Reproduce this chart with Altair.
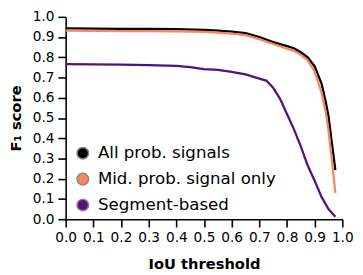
import altair as alt
import pandas as pd

iou = [0.0, 0.1, 0.2, 0.3, 0.4, 0.5, 0.55, 0.6, 0.65, 0.7, 0.75, 0.8, 0.825,
       0.85, 0.875, 0.9, 0.925, 0.94, 0.95, 0.96, 0.975]
all_prob = [0.943, 0.942, 0.941, 0.940, 0.939, 0.936, 0.932, 0.927, 0.920, 0.900,
            0.875, 0.855, 0.845, 0.825, 0.800, 0.755, 0.670, 0.580, 0.510, 0.400, 0.242]
mid_prob = [0.932, 0.931, 0.930, 0.929, 0.928, 0.926, 0.922, 0.917, 0.910, 0.890,
            0.866, 0.843, 0.832, 0.812, 0.785, 0.730, 0.625, 0.530, 0.440, 0.320, 0.130]

iou_seg = [0.0, 0.1, 0.2, 0.3, 0.4, 0.45, 0.5, 0.55, 0.6, 0.65, 0.7, 0.725, 0.75,
           0.775, 0.8, 0.825, 0.85, 0.875, 0.9, 0.925, 0.95, 0.975]
segment = [0.766, 0.765, 0.764, 0.761, 0.758, 0.752, 0.742, 0.738, 0.728, 0.716,
           0.695, 0.685, 0.650, 0.595, 0.520, 0.445, 0.360, 0.265, 0.190, 0.110,
           0.050, 0.012]

series_names = ["All prob. signals", "Mid. prob. signal only", "Segment-based"]
series_colors = ["#000000", "#f8875f", "#51127c"]

rows = []
for k, (xs, ys) in enumerate([(iou, all_prob), (iou, mid_prob), (iou_seg, segment)]):
    for i, (x, y) in enumerate(zip(xs, ys)):
        rows.append({"iou": x, "f1": y, "method": series_names[k],
                     "series": series_names[k], "order": k, "i": i})
df = pd.DataFrame(rows)

tick_vals = [round(0.1 * i, 1) for i in range(11)]

x_enc = alt.X("iou:Q", scale=alt.Scale(domain=[0, 1], nice=False),
              axis=alt.Axis(title="IoU threshold", values=tick_vals, format=".1f",
                            labelOverlap=False, labelFlush=False))
y_enc = alt.Y("f1:Q", scale=alt.Scale(domain=[0, 1], nice=False),
              axis=alt.Axis(title="F₁ score", values=tick_vals, format=".1f",
                            labelOverlap=False, labelFlush=False))

lines = alt.Chart(df).mark_line(strokeWidth=2.3).encode(
    x=x_enc, y=y_enc,
    stroke=alt.Stroke("method:N",
                      scale=alt.Scale(domain=series_names, range=series_colors),
                      legend=None),
    detail="order:N",
    order="i:Q",
)

legend_pts = alt.Chart(df).mark_point(filled=True, size=0, stroke="#888888",
                                       strokeWidth=1.5, opacity=1).encode(
    x=x_enc, y=y_enc,
    fill=alt.Fill("series:N",
                  scale=alt.Scale(domain=series_names, range=series_colors),
                  legend=alt.Legend(title=None, orient="none", legendX=9, legendY=131,
                                    symbolType="circle", symbolSize=140,
                                    symbolStrokeColor="#888888", symbolStrokeWidth=1.5,
                                    symbolOpacity=1, labelLimit=300,
                                    labelFontSize=17, labelFont="DejaVu Sans",
                                    labelColor="#000000",
                                    rowPadding=7.5, padding=0, labelOffset=7)),
)

chart = alt.layer(lines, legend_pts).resolve_scale(
    fill="independent", stroke="independent"
).properties(
    width=283, height=207,
    autosize=alt.AutoSizeParams(type="none"),
    padding={"left": 59, "top": 6, "right": 13, "bottom": 52},
).configure_view(stroke=None).configure_axis(
    grid=False, domainColor="black", domainWidth=1.6, tickColor="black",
    tickWidth=1.6, tickSize=8, labelFont="DejaVu Sans", labelFontSize=14,
    labelColor="black", titleFont="DejaVu Sans", titleFontSize=15,
    titleFontWeight="bold", titleColor="black", labelPadding=4,
).configure_axisX(titlePadding=12).configure_axisY(titlePadding=9)

chart.save("out.html", embed_options={"renderer": "svg", "actions": False})
